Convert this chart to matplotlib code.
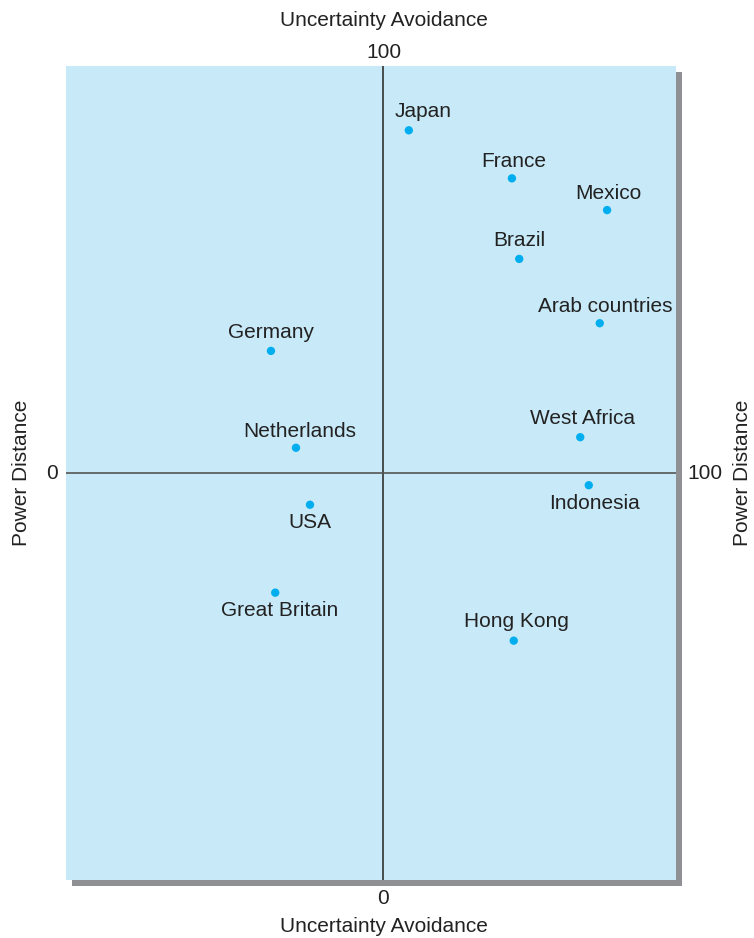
import matplotlib.pyplot as plt
from matplotlib.patches import Rectangle

plt.rcParams['font.family'] = ['Liberation Sans', 'DejaVu Sans']

countries = ["Japan", "France", "Mexico", "Brazil", "Arab countries", "Germany",
             "West Africa", "Netherlands", "Indonesia", "USA", "Great Britain", "Hong Kong"]
# Power distance (horizontal), uncertainty avoidance (vertical), on the box scale 0-100
power_distance = [56.2, 73.1, 88.7, 74.3, 87.5, 33.6, 84.3, 37.7, 85.7, 40.0, 34.3, 73.4]
uncertainty = [92.1, 86.2, 82.3, 76.3, 68.4, 65.0, 54.4, 53.1, 48.5, 46.1, 35.3, 29.4]

# where the quadrant lines cross
cross_pd = 52.0
cross_ua = 50.0

# label offsets from the dot, in pixels
label_dx = [14, 2, 1, 0, 6, 0, 2, 4, 6, 0, 4, 3]
label_dy = [19, 17, 17, 18, 17, 18, 19, 16, -18, -18, -18, 19]

W, H = 754, 938
fig = plt.figure(figsize=(W / 100, H / 100), dpi=100)
L, R, T, B = 66, 676, 66, 880
ax = fig.add_axes([L / W, 1 - B / H, (R - L) / W, (B - T) / H])
ax.set_zorder(2)

# drop shadow
shadow = Rectangle(((L + 6) / W, 1 - (B + 6) / H), (R - L) / W, (B - T) / H,
                   transform=fig.transFigure, facecolor='#8f9094', edgecolor='none', zorder=1)
fig.patches.append(shadow)

ax.set_facecolor('#c8e9f8')
ax.set_xlim(0, 100)
ax.set_ylim(0, 100)
for s in ax.spines.values():
    s.set_visible(False)
ax.set_xticks([])
ax.set_yticks([])

ax.axvline(cross_pd, color='#333333', lw=1.2)
ax.axhline(cross_ua, color='#555555', lw=1.2)

ax.scatter(power_distance, uncertainty, s=36, color='#00aeef', zorder=3, edgecolors='none')
for name, x, y, dx, dy in zip(countries, power_distance, uncertainty, label_dx, label_dy):
    ax.annotate(name, (x, y), xytext=(dx, dy), textcoords='offset pixels',
                ha='center', va='center', fontsize=15, color='#222222')

fs = 15
fig.text(384 / W, 1 - 20 / H, "Uncertainty Avoidance", ha='center', va='center', fontsize=fs, color='#222222')
fig.text(384 / W, 1 - 53 / H, "100", ha='center', va='center', fontsize=fs, color='#222222')
fig.text(383 / W, 1 - 898 / H, "0", ha='center', va='center', fontsize=fs, color='#222222')
fig.text(384 / W, 1 - 926 / H, "Uncertainty Avoidance", ha='center', va='center', fontsize=fs, color='#222222')
fig.text(52 / W, 1 - 473 / H, "0", ha='center', va='center', fontsize=fs, color='#222222')
fig.text(705 / W, 1 - 473 / H, "100", ha='center', va='center', fontsize=fs, color='#222222')
fig.text(22 / W, 1 - 473 / H, "Power Distance", ha='center', va='center', rotation=90, fontsize=fs, color='#222222')
fig.text(742 / W, 1 - 473 / H, "Power Distance", ha='center', va='center', rotation=90, fontsize=fs, color='#222222')

fig.savefig('out.png', dpi=100)
